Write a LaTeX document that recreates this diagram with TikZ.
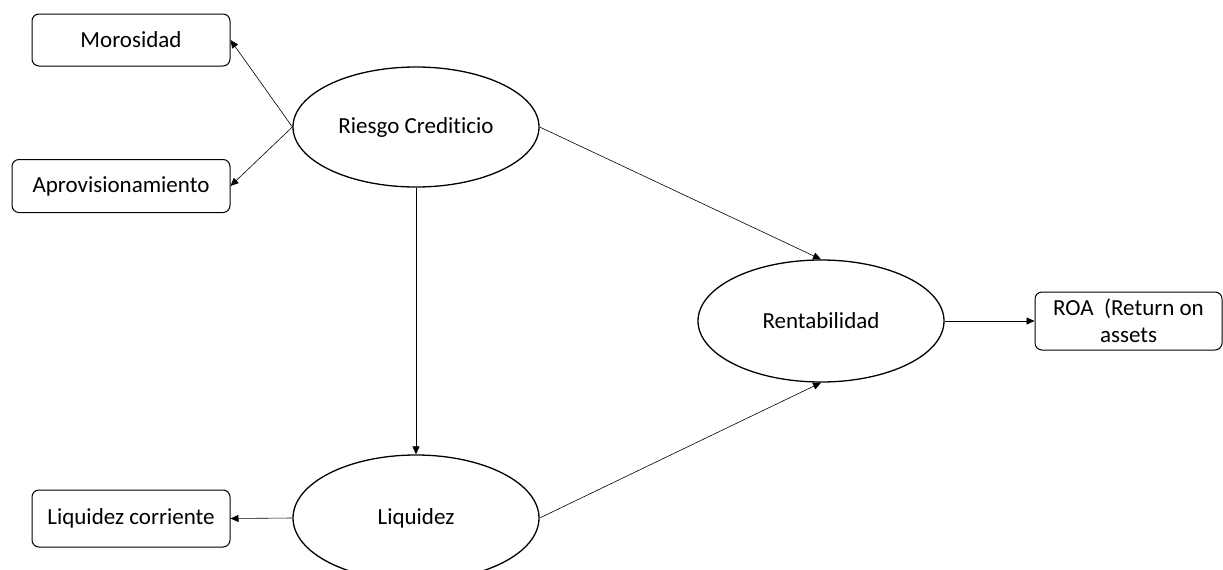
\documentclass[tikz,border=0pt]{standalone}
\usepackage{fontspec}
\setmainfont[Ligatures=NoCommon]{Carlito}
\usetikzlibrary{shapes.geometric,arrows.meta}
\begin{document}
\begin{tikzpicture}[x=1pt,y=-1pt,
  lat/.style={ellipse,draw,line width=1.3pt,minimum width=246pt,minimum height=120pt,inner sep=0pt,font=\fontsize{23}{27}\selectfont},
  ind/.style={draw,rounded corners=7pt,line width=1pt,inner sep=0pt,font=\fontsize{23}{27}\selectfont,align=center},
  conn/.style={draw,line width=0.6pt,-{Triangle[length=8pt,width=7pt]}}]
\useasboundingbox (0,0) rectangle (1223,570);
\node[lat] (rc) at (416,127) {Riesgo Crediticio};
\node[lat,minimum height=126pt] (liq) at (416,518) {Liquidez};
\node[lat,minimum height=122pt] (ren) at (821,321) {Rentabilidad};
\node[ind,minimum width=198pt,minimum height=52pt] (mor) at (131,40) {Morosidad};
\node[ind,minimum width=218pt,minimum height=53pt] (apr) at (121,186) {Aprovisionamiento};
\node[ind,minimum width=198pt,minimum height=57pt] (lc) at (131,518.5) {Liquidez corriente};
\node[ind,minimum width=187pt,minimum height=58pt] (roa) at (1128.5,321) {ROA\ \ (Return on\\assets};
\draw[conn] (rc.west) -- (mor.east);
\draw[conn] (rc.west) -- (apr.east);
\draw[conn] (rc.south) -- (liq.north);
\draw[conn] (rc.east) -- (ren.north);
\draw[conn] (liq.east) -- (ren.south);
\draw[conn] (liq.west) -- (lc.east);
\draw[conn] (ren.east) -- (roa.west);
\end{tikzpicture}
\end{document}
